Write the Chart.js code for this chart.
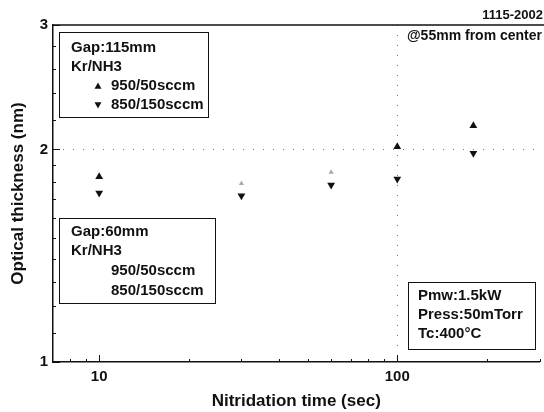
<!DOCTYPE html>
<html>
<head>
<meta charset="utf-8">
<script src="https://cdn.jsdelivr.net/npm/chart.js@4/dist/chart.umd.min.js"></script>
<style>
  html, body { margin: 0; padding: 0; background: #fff; }
  #wrap { width: 544px; height: 412px; }
</style>
</head>
<body>
<div id="wrap"><canvas id="myChart" width="544" height="412"></canvas></div>
<script>
// nitridation time (sec)
var times = [10, 30, 60, 100, 180];
// Gap 115mm, Kr/NH3
var up950 = [1.83, 1.79, 1.856, 2.018, 2.16];    // 950/50sccm
var down850 = [1.735, 1.72, 1.78, 1.816, 1.975]; // 850/150sccm
// the 30 and 60 sec "up" marks are barely printed in the scan
var upFaint = [false, true, true, false, false];

var yMajor = [1, 2, 3];
var yMinor = [1.1, 1.2, 1.3, 1.4, 1.5, 1.6, 1.7, 1.8, 1.9, 2.2, 2.4, 2.6, 2.8];
var xMajor = [10, 100];
var xMinor = [8, 9, 20, 30, 40, 50, 60, 70, 80, 90, 200, 300];

var FONT = "'Liberation Sans', Arial, sans-serif";
var INK = '#111';

function pts(ys) {
  return times.map(function (t, i) { return { x: t, y: ys[i] }; });
}

function tri(ctx, x, y, r, down) {
  ctx.beginPath();
  if (down) {
    ctx.moveTo(x - r, y - r * 0.8);
    ctx.lineTo(x + r, y - r * 0.8);
    ctx.lineTo(x, y + r);
  } else {
    ctx.moveTo(x - r, y + r * 0.8);
    ctx.lineTo(x + r, y + r * 0.8);
    ctx.lineTo(x, y - r);
  }
  ctx.closePath();
  ctx.fill();
}

// frame, inner ticks, dotted guides and the text boxes
var decorations = {
  id: 'decorations',
  beforeDatasetsDraw: function (chart) {
    var ctx = chart.ctx, a = chart.chartArea;
    var xs = chart.scales.x, ys = chart.scales.y;
    ctx.save();
    // dotted guides at y=2 and x=100
    ctx.strokeStyle = '#777';
    ctx.lineWidth = 1;
    ctx.setLineDash([1, 9]);
    var py = Math.round(ys.getPixelForValue(2)) + 0.5;
    ctx.beginPath(); ctx.moveTo(a.left, py); ctx.lineTo(a.right, py); ctx.stroke();
    var px = Math.round(xs.getPixelForValue(100)) + 0.5;
    ctx.beginPath(); ctx.moveTo(px, a.top); ctx.lineTo(px, a.bottom); ctx.stroke();
    ctx.setLineDash([]);
    ctx.restore();
  },
  afterDraw: function (chart) {
    var ctx = chart.ctx, a = chart.chartArea;
    var xs = chart.scales.x, ys = chart.scales.y;
    ctx.save();
    ctx.strokeStyle = INK;
    ctx.fillStyle = INK;
    ctx.lineWidth = 1.5;
    // top frame line
    ctx.beginPath(); ctx.moveTo(a.left, a.top); ctx.lineTo(544, a.top); ctx.stroke();

    ctx.lineWidth = 1;
    yMajor.forEach(function (v) {
      var p = Math.round(ys.getPixelForValue(v)) + 0.5;
      ctx.beginPath(); ctx.moveTo(a.left, p); ctx.lineTo(a.left + 7, p); ctx.stroke();
    });
    yMinor.forEach(function (v) {
      var p = Math.round(ys.getPixelForValue(v)) + 0.5;
      ctx.beginPath(); ctx.moveTo(a.left, p); ctx.lineTo(a.left + 3, p); ctx.stroke();
    });
    xMajor.forEach(function (v) {
      var p = Math.round(xs.getPixelForValue(v)) + 0.5;
      ctx.beginPath(); ctx.moveTo(p, a.bottom); ctx.lineTo(p, a.bottom - 7); ctx.stroke();
    });
    xMinor.forEach(function (v) {
      var p = Math.round(xs.getPixelForValue(v)) + 0.5;
      ctx.beginPath(); ctx.moveTo(p, a.bottom); ctx.lineTo(p, a.bottom - 3); ctx.stroke();
    });

    // header texts
    ctx.textBaseline = 'middle';
    ctx.textAlign = 'right';
    ctx.font = 'bold 13px ' + FONT;
    ctx.fillText('1115-2002', 543, 15);
    ctx.font = 'bold 14px ' + FONT;
    ctx.fillText('@55mm from center', 542, 36);

    // boxes
    ctx.textAlign = 'left';
    ctx.font = 'bold 15px ' + FONT;
    ctx.lineWidth = 1;
    ctx.fillStyle = '#fff';
    [[59.5, 32.5, 149, 85], [59.5, 218.5, 156, 85], [408.5, 282.5, 127, 67]].forEach(function (b) {
      ctx.fillRect(b[0], b[1], b[2], b[3]);
      ctx.strokeRect(b[0], b[1], b[2], b[3]);
    });
    ctx.fillStyle = INK;
    ctx.fillText('Gap:115mm', 71, 48);
    ctx.fillText('Kr/NH3', 71, 67);
    tri(ctx, 98, 86, 3.5, false);
    ctx.fillText('950/50sccm', 111, 86);
    tri(ctx, 98, 105, 3.5, true);
    ctx.fillText('850/150sccm', 111, 105);

    ctx.fillText('Gap:60mm', 71, 232);
    ctx.fillText('Kr/NH3', 71, 251);
    ctx.fillText('950/50sccm', 111, 271);
    ctx.fillText('850/150sccm', 111, 291);

    ctx.fillText('Pmw:1.5kW', 418, 296);
    ctx.fillText('Press:50mTorr', 418, 315);
    ctx.fillText('Tc:400\u00B0C', 418, 334);
    ctx.restore();
  }
};

var ctx = document.getElementById('myChart').getContext('2d');
var myChart = new Chart(ctx, {
  type: 'scatter',
  data: {
    datasets: [{
      label: '950/50sccm',
      data: pts(up950),
      pointStyle: 'triangle',
      rotation: 0,
      pointRadius: upFaint.map(function (f) { return f ? 3 : 4.5; }),
      backgroundColor: upFaint.map(function (f) { return f ? '#aaa' : INK; }),
      borderColor: upFaint.map(function (f) { return f ? '#aaa' : INK; }),
      borderWidth: 0
    }, {
      label: '850/150sccm',
      data: pts(down850),
      pointStyle: 'triangle',
      rotation: 180,
      pointRadius: 4.5,
      backgroundColor: INK,
      borderColor: INK,
      borderWidth: 0
    }]
  },
  options: {
    responsive: false,
    animation: false,
    layout: { padding: { top: 25, right: 0, left: 0, bottom: 0 } },
    plugins: { legend: { display: false }, tooltip: { enabled: false } },
    scales: {
      x: {
        type: 'logarithmic',
        min: 7,
        max: 300,
        afterFit: function (s) { s.height = 50; s.paddingRight = 0; },
        afterBuildTicks: function (s) { s.ticks = xMajor.map(function (v) { return { value: v }; }); },
        ticks: {
          color: INK, padding: 6, autoSkip: false, maxRotation: 0,
          font: { family: FONT, size: 15, weight: 'bold' },
          callback: function (v) { return String(v); }
        },
        grid: { display: true, drawOnChartArea: false, drawTicks: false },
        border: { display: true, color: INK, width: 1.5 },
        title: {
          display: true, text: 'Nitridation time (sec)', color: INK,
          font: { family: FONT, size: 17, weight: 'bold' },
          padding: { top: 0, bottom: 0 }
        }
      },
      y: {
        type: 'logarithmic',
        min: 1,
        max: 3,
        afterFit: function (s) { s.width = 53; },
        afterBuildTicks: function (s) { s.ticks = yMajor.map(function (v) { return { value: v }; }); },
        ticks: {
          color: INK, padding: 5, autoSkip: false,
          font: { family: FONT, size: 15, weight: 'bold' },
          callback: function (v) { return String(v); }
        },
        grid: { display: true, drawOnChartArea: false, drawTicks: false },
        border: { display: true, color: INK, width: 1.5 },
        title: {
          display: true, text: 'Optical thickness (nm)', color: INK,
          font: { family: FONT, size: 17, weight: 'bold' },
          padding: { top: 8, bottom: 0 }
        }
      }
    }
  },
  plugins: [decorations]
});
</script>
</body>
</html>
